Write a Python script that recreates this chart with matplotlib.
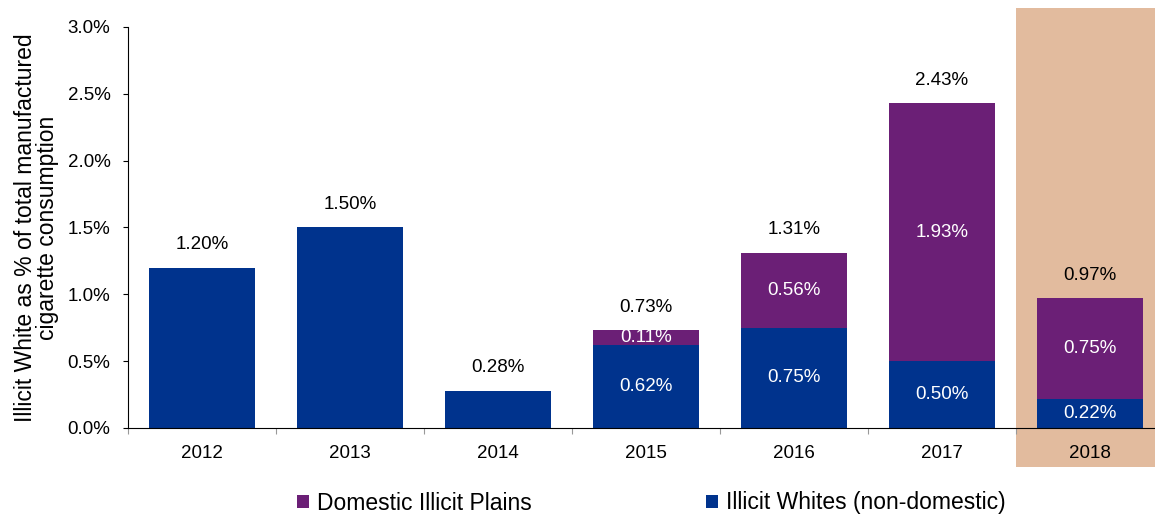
import matplotlib.pyplot as plt
import matplotlib.transforms as mtransforms
from matplotlib.patches import Rectangle

plt.rcParams['font.family'] = ['Liberation Sans', 'DejaVu Sans']

years = ['2012', '2013', '2014', '2015', '2016', '2017', '2018']
illicit_whites = [1.20, 1.50, 0.28, 0.62, 0.75, 0.50, 0.22]
domestic_plains = [0.0, 0.0, 0.0, 0.11, 0.56, 1.93, 0.75]
totals = [1.20, 1.50, 0.28, 0.73, 1.31, 2.43, 0.97]

azul = '#00338D'
morado = '#6B1F76'
tostado = '#E2BB9E'

fig = plt.figure(figsize=(11.55, 5.17), dpi=100)
ax = fig.add_axes([128 / 1155, 89 / 517, 1027 / 1155, 401 / 517])
ax.patch.set_alpha(0)

x = list(range(len(years)))

# franja resaltada del ultimo año
trans = mtransforms.blended_transform_factory(ax.transData, ax.transAxes)
ax.add_patch(Rectangle((5.5, -0.097), 1.5, 1.144, transform=trans,
                       facecolor=tostado, edgecolor='none', clip_on=False, zorder=0))

ax.bar(x, illicit_whites, width=0.72, color=azul, zorder=2,
       label='Illicit Whites (non-domestic)')
ax.bar(x, domestic_plains, width=0.72, bottom=illicit_whites, color=morado, zorder=2,
       label='Domestic Illicit Plains')

for i in x:
    ax.annotate(f'{totals[i]:.2f}%', (i, totals[i]), xytext=(0, 16.5),
                textcoords='offset points', ha='center', va='center', fontsize=13.5)
    if domestic_plains[i] > 0:
        ax.text(i, illicit_whites[i] / 2, f'{illicit_whites[i]:.2f}%', ha='center',
                va='center', color='white', fontsize=13.5, zorder=3)
        ax.text(i, illicit_whites[i] + domestic_plains[i] / 2, f'{domestic_plains[i]:.2f}%',
                ha='center', va='center', color='white', fontsize=13.5, zorder=3)

ax.set_xlim(-0.5, 6.439)
ax.set_ylim(0, 3.0)
ax.set_yticks([0, 0.5, 1.0, 1.5, 2.0, 2.5, 3.0])
ax.set_yticklabels([f'{v:.1f}%' for v in [0, 0.5, 1.0, 1.5, 2.0, 2.5, 3.0]], fontsize=13.5)
ax.set_xticks([i - 0.5 for i in range(len(years))])
ax.set_xticklabels([])
ax.set_xticks(x, minor=True)
ax.set_xticklabels(years, minor=True, fontsize=13.5)
ax.tick_params(axis='x', which='minor', length=0, pad=12)
ax.tick_params(axis='x', which='major', length=4.3, color='#999999')
ax.tick_params(axis='y', length=3.6, pad=9)

for lado in ['top', 'right']:
    ax.spines[lado].set_visible(False)

ax.set_ylabel('Illicit White as % of total manufactured\ncigarette consumption',
              fontsize=16.5, labelpad=6, linespacing=0.95)

handles, labels = ax.get_legend_handles_labels()
fig.legend(handles[::-1], labels[::-1], loc='center', bbox_to_anchor=(651 / 1155, 14 / 517),
           ncol=2, frameon=False, handlelength=0.52, handleheight=0.52,
           handletextpad=0.35, columnspacing=7.6, fontsize=16.5)

fig.savefig('out.png', dpi=100)
